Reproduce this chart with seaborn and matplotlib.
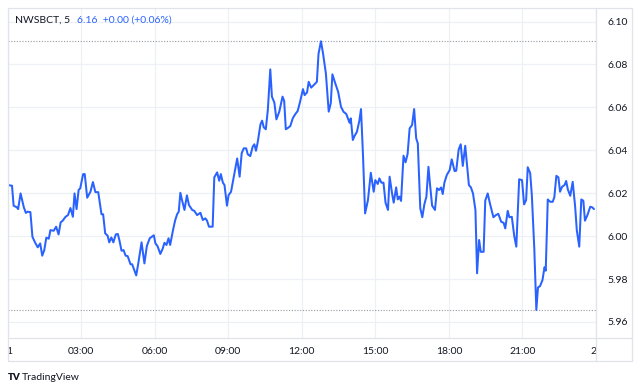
import matplotlib
matplotlib.use("Agg")
import matplotlib.pyplot as plt
from matplotlib.lines import Line2D
from matplotlib.transforms import Bbox, TransformedBbox
import seaborn as sns
import pandas as pd

# ---- data (5-minute series, minutes after midnight) ----
minutes = [0, 11, 15, 23, 26, 32, 40, 45, 49, 56, 61, 67, 74, 80, 85, 90, 95, 101, 105, 113,
           119, 125, 130, 135, 142, 148, 154, 160, 164, 169, 174, 178, 185, 189, 195, 203, 209, 215, 222, 230,
           234, 239, 245, 249, 254, 259, 265, 270, 274, 279, 284, 289, 294, 301, 305, 315, 320, 328, 335, 341,
           348, 358, 362, 367, 374, 380, 384, 389, 394, 398, 405, 410, 415, 419, 423, 427, 433, 439, 444, 452,
           457, 464, 472, 478, 484, 488, 493, 502, 506, 513, 518, 522, 527, 531, 537, 541, 547, 553, 562, 568,
           573, 578, 584, 588, 594, 600, 604, 608, 612, 619, 623, 627, 632, 637, 643, 647, 653, 658, 665, 673,
           677, 681, 686, 692, 698, 704, 710, 715, 723, 727, 733, 737, 743, 751, 757, 761, 767, 772, 779, 786,
           791, 795, 802, 809, 816, 822, 829, 833, 837, 840, 845, 849, 855, 861, 865, 870, 875, 882, 889, 896,
           900, 906, 910, 915, 920, 925, 931, 935, 941, 945, 951, 955, 959, 963, 969, 974, 979, 984, 990, 995,
           1000, 1004, 1010, 1015, 1020, 1025, 1030, 1034, 1039, 1046, 1051, 1056, 1061, 1065, 1069, 1075, 1082, 1087, 1094, 1098,
           1104, 1109, 1114, 1120, 1124, 1129, 1134, 1139, 1145, 1149, 1154, 1158, 1165, 1169, 1175, 1181, 1189, 1195, 1201, 1208,
           1214, 1218, 1224, 1228, 1234, 1240, 1245, 1252, 1259, 1264, 1269, 1273, 1279, 1283, 1289, 1294, 1298, 1303, 1309, 1314,
           1317, 1322, 1328, 1334, 1338, 1343, 1348, 1352, 1357, 1363, 1367, 1371, 1377, 1383, 1389, 1393, 1399, 1404, 1409, 1413,
           1419, 1426, 1431, 1435]
prices = [6.0238, 6.0235, 6.0142, 6.0134, 6.0126, 6.0199, 6.0134, 6.0108, 6.0114, 6.0112, 5.9997, 5.9972, 5.9948, 5.9966, 5.9909, 5.9935, 5.9993, 5.9988, 6.0028, 6.0025,
          6.0044, 6.0008, 6.0064, 6.0072, 6.0090, 6.0098, 6.0131, 6.0090, 6.0199, 6.0126, 6.0215, 6.0223, 6.0289, 6.0289, 6.0179, 6.0207, 6.0252, 6.0205, 6.0205, 6.0102,
          6.0102, 6.0013, 6.0002, 5.9971, 5.9994, 5.9971, 6.0008, 6.0010, 5.9979, 5.9932, 5.9935, 5.9909, 5.9907, 5.9869, 5.9869, 5.9817, 5.9873, 5.9971, 5.9873, 5.9954,
          5.9990, 6.0004, 5.9966, 5.9954, 5.9917, 5.9943, 5.9969, 5.9959, 5.9990, 5.9959, 6.0028, 6.0072, 6.0102, 6.0114, 6.0202, 6.0168, 6.0122, 6.0190, 6.0145, 6.0122,
          6.0118, 6.0098, 6.0109, 6.0075, 6.0083, 6.0073, 6.0044, 6.0044, 6.0274, 6.0297, 6.0258, 6.0289, 6.0249, 6.0238, 6.0142, 6.0191, 6.0207, 6.0269, 6.0362, 6.0277,
          6.0386, 6.0409, 6.0409, 6.0381, 6.0373, 6.0417, 6.0428, 6.0398, 6.0435, 6.0521, 6.0538, 6.0507, 6.0498, 6.0588, 6.0777, 6.0650, 6.0622, 6.0544, 6.0580, 6.0650,
          6.0630, 6.0498, 6.0504, 6.0513, 6.0549, 6.0568, 6.0583, 6.0619, 6.0685, 6.0657, 6.0670, 6.0719, 6.0692, 6.0707, 6.0719, 6.0849, 6.0908, 6.0852, 6.0759, 6.0580,
          6.0619, 6.0754, 6.0712, 6.0673, 6.0603, 6.0580, 6.0569, 6.0549, 6.0528, 6.0549, 6.0448, 6.0466, 6.0486, 6.0538, 6.0592, 6.0370, 6.0106, 6.0168, 6.0295, 6.0207,
          6.0261, 6.0243, 6.0269, 6.0249, 6.0249, 6.0156, 6.0122, 6.0277, 6.0199, 6.0156, 6.0227, 6.0171, 6.0184, 6.0164, 6.0375, 6.0344, 6.0383, 6.0502, 6.0518, 6.0592,
          6.0456, 6.0432, 6.0130, 6.0088, 6.0148, 6.0184, 6.0323, 6.0238, 6.0142, 6.0122, 6.0223, 6.0215, 6.0227, 6.0196, 6.0249, 6.0285, 6.0308, 6.0358, 6.0303, 6.0305,
          6.0404, 6.0428, 6.0327, 6.0421, 6.0339, 6.0238, 6.0227, 6.0199, 6.0122, 5.9827, 5.9982, 5.9927, 5.9927, 6.0165, 6.0199, 6.0148, 6.0088, 6.0098, 6.0104, 6.0067,
          6.0062, 6.0036, 6.0118, 6.0088, 6.0090, 6.0000, 5.9951, 6.0265, 6.0261, 6.0148, 6.0168, 6.0321, 6.0293, 6.0191, 5.9943, 5.9656, 5.9761, 5.9767, 5.9795, 5.9855,
          5.9839, 6.0171, 6.0160, 6.0160, 6.0181, 6.0281, 6.0274, 6.0207, 6.0230, 6.0238, 6.0257, 6.0218, 6.0188, 6.0253, 6.0137, 6.0028, 5.9951, 6.0171, 6.0165, 6.0072,
          6.0098, 6.0137, 6.0134, 6.0126]

x_ticks = [0, 180, 360, 540, 720, 900, 1080, 1260, 1440]
x_tick_labels = ["21", "03:00", "06:00", "09:00", "12:00", "15:00", "18:00", "21:00", "22"]
y_ticks = [5.96, 5.98, 6.00, 6.02, 6.04, 6.06, 6.08, 6.10]

symbol = "NWSBCT, 5"
quote = "6.16  +0.00 (+0.06%)"

df = pd.DataFrame({"minute": minutes, "price": prices})

W, H = 640, 391
sns.set_theme(style="white")
plt.rcParams["font.family"] = ["Lato", "DejaVu Sans"]

fig = plt.figure(figsize=(W / 100, H / 100), dpi=100)
fig.patch.set_facecolor("white")

L, R, T, B = 7.5, 596.0, 8.0, 338.3
ax = fig.add_axes([L / W, 1 - B / H, (R - L) / W, (B - T) / H])
ax.set_facecolor("white")

BLUE = "#2962FF"
GRID = "#eef0f5"
BORDER = "#e0e3eb"
TXT = "#131722"

sns.lineplot(data=df, x="minute", y="price", ax=ax, color=BLUE, linewidth=1.45, zorder=3)

ax.set_xlim(0, 1440)
ax.set_ylim(5.9524, 6.1063)

ax.set_xticks(x_ticks)
ax.set_xticklabels(x_tick_labels)
ax.set_yticks(y_ticks)
ax.set_yticklabels([f"{v:.2f}" for v in y_ticks])
ax.yaxis.tick_right()
ax.tick_params(axis="both", length=0, colors=TXT, labelsize=7.5)
ax.tick_params(axis="y", pad=8)
ax.tick_params(axis="x", pad=6)
for lbl in ax.get_xticklabels() + ax.get_yticklabels():
    lbl.set_color(TXT)
ax.set_xlabel("")
ax.set_ylabel("")
ax.grid(True, color=GRID, linewidth=0.9)
for s in ax.spines.values():
    s.set_visible(False)

# high / low dotted lines
ax.axhline(max(prices), color="#9598a1", linewidth=0.8, linestyle=(0, (1, 1.5)), zorder=2)
ax.axhline(min(prices), color="#9598a1", linewidth=0.8, linestyle=(0, (1, 1.5)), zorder=2)

# clip the edge time labels to the pane width
clip = TransformedBbox(Bbox([[L / W, 0], [R / W, 1]]), fig.transFigure)
for t in ax.xaxis.get_major_ticks():
    t.label1.set_clip_box(clip)
    t.label1.set_clip_on(True)

def fx(x):
    return x / W

def fy(y):
    return 1 - y / H

# frame lines
segs = [((8, 8), (632, 8)), ((8, 361), (632, 361)), ((8, 8), (8, 361)), ((632, 8), (632, 361)),
        ((8, B), (632, B)), ((R, 8), (R, 361))]
for (x0, y0), (x1, y1) in segs:
    fig.add_artist(Line2D([fx(x0), fx(x1)], [fy(y0), fy(y1)], color=BORDER, linewidth=0.9,
                          transform=fig.transFigure))

# legend / title text
t1 = fig.text(fx(15), fy(20), symbol, color=TXT, fontsize=7.5, va="center", ha="left")
renderer = fig.canvas.get_renderer()
end_px = t1.get_window_extent(renderer).x1
fig.text((end_px + 7) / W, fy(20), quote, color=BLUE, fontsize=7.5, va="center", ha="left")

# branding
fig.text(fx(8), fy(377), "TV", color=TXT, fontsize=7, fontweight="heavy", va="center", ha="left")
fig.text(fx(22), fy(377), "TradingView", color=TXT, fontsize=7.5, va="center", ha="left")

fig.savefig("out.png", dpi=100, facecolor="white")
